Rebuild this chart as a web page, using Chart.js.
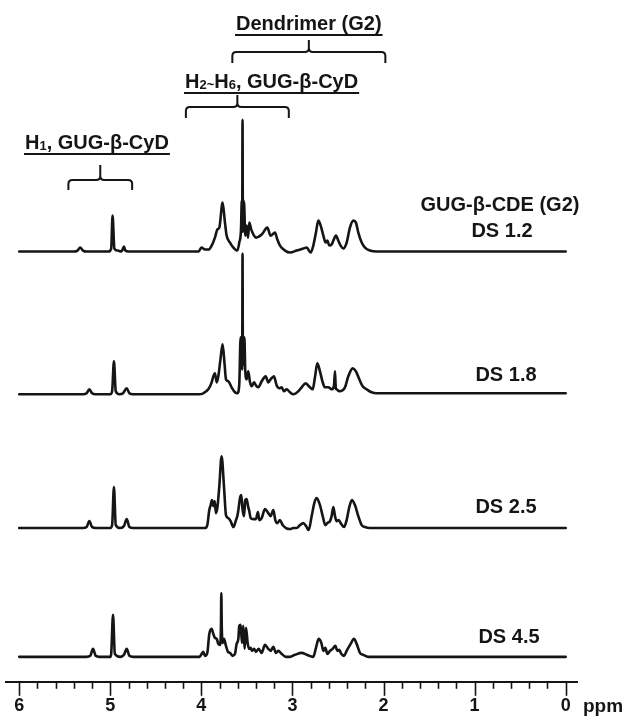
<!DOCTYPE html>
<html>
<head>
<meta charset="utf-8">
<script src="https://cdn.jsdelivr.net/npm/chart.js@4.4.1/dist/chart.umd.min.js"></script>
<style>
  html, body { margin: 0; padding: 0; background: #fff; }
  #wrap { width: 628px; height: 720px; position: relative; }
</style>
</head>
<body>
<div id="wrap"><canvas id="nmr"></canvas></div>
<script>
// [ppm, intensity above the trace baseline]
const specDS12 = [
  [6.0,0],[5.40,0],[5.36,1],[5.33,4],[5.30,1],[5.26,0],[5.02,0],[4.99,3],[4.975,36],[4.955,3],
  [4.92,1],[4.88,0],[4.865,2],[4.85,5],[4.835,1],[4.80,0],[4.03,0],[4.00,4],[3.96,2],[3.92,2],
  [3.887,6],[3.851,14],[3.825,22],[3.803,24],[3.767,49],[3.741,29],[3.723,16],[3.686,9],[3.649,4],
  [3.605,1],[3.584,9],[3.565,22],[3.556,51],[3.552,20],[3.548,132],[3.544,20],[3.540,52],[3.536,24],
  [3.532,50],[3.518,16],[3.503,26],[3.488,14],[3.474,29],[3.452,22],[3.422,16],[3.401,14],[3.338,17],
  [3.276,24],[3.240,16],[3.192,19],[3.166,12],[3.137,6],[3.082,1],[3.027,-1],[2.954,1],[2.881,3],
  [2.844,4],[2.800,-1],[2.771,6],[2.742,19],[2.716,31],[2.690,26],[2.661,16],[2.636,9],[2.617,11],
  [2.595,6],[2.570,7],[2.551,11],[2.522,16],[2.497,11],[2.471,6],[2.442,3],[2.405,9],[2.369,24],
  [2.332,31],[2.303,29],[2.277,19],[2.240,9],[2.204,4],[2.149,1],[2.076,0],[0,0]
];
const specDS18 = [
  [6.0,0],[5.30,0],[5.26,1],[5.23,5],[5.20,1],[5.16,0],[5.00,0],[4.98,3],[4.96,33],[4.94,3],
  [4.90,0],[4.86,1],[4.82,6],[4.79,1],[4.75,0],[4.03,0],[3.979,1],[3.924,5],[3.887,12],[3.869,18],
  [3.851,21],[3.832,12],[3.814,18],[3.788,37],[3.767,50],[3.745,30],[3.730,15],[3.704,13],[3.668,7],
  [3.631,2],[3.605,1],[3.584,10],[3.569,57],[3.562,30],[3.557,57],[3.552,25],[3.548,141],[3.544,30],
  [3.540,57],[3.535,30],[3.528,57],[3.518,23],[3.503,15],[3.485,23],[3.466,12],[3.448,8],[3.422,12],
  [3.401,9],[3.375,7],[3.338,13],[3.294,18],[3.265,12],[3.240,15],[3.203,18],[3.174,9],[3.144,6],
  [3.119,7],[3.093,3],[3.064,5],[3.027,2],[2.991,0],[2.936,3],[2.899,7],[2.855,11],[2.808,7],
  [2.778,5],[2.753,17],[2.727,31],[2.698,23],[2.668,12],[2.643,7],[2.606,7],[2.570,5],[2.545,8],
  [2.533,23],[2.524,6],[2.515,5],[2.486,3],[2.449,4],[2.423,7],[2.387,18],[2.339,26],[2.303,23],
  [2.266,15],[2.229,8],[2.185,5],[2.131,2],[2.076,1],[0,1]
];
const specDS25 = [
  [6.0,0],[5.30,0],[5.26,1],[5.23,7],[5.20,1],[5.16,0],[5.00,0],[4.98,3],[4.96,41],[4.94,3],
  [4.89,0],[4.85,2],[4.82,9],[4.79,1],[4.75,0],[3.961,0],[3.935,3],[3.913,18],[3.898,23],[3.884,28],
  [3.869,22],[3.854,27],[3.840,15],[3.825,20],[3.803,42],[3.778,72],[3.752,42],[3.730,13],[3.704,10],
  [3.679,7],[3.649,1],[3.620,8],[3.605,12],[3.591,20],[3.576,30],[3.562,33],[3.547,18],[3.532,12],
  [3.518,28],[3.503,29],[3.488,22],[3.474,17],[3.459,10],[3.430,9],[3.401,9],[3.379,16],[3.364,8],
  [3.338,10],[3.302,19],[3.265,15],[3.240,12],[3.210,18],[3.188,8],[3.166,5],[3.137,8],[3.108,3],
  [3.071,0],[3.027,-1],[2.991,0],[2.954,0],[2.917,3],[2.881,5],[2.851,2],[2.822,-2],[2.789,12],
  [2.760,25],[2.735,30],[2.698,23],[2.668,12],[2.639,3],[2.617,5],[2.588,7],[2.570,12],[2.551,21],
  [2.533,12],[2.515,7],[2.493,8],[2.464,4],[2.434,1],[2.405,8],[2.376,21],[2.347,28],[2.314,23],
  [2.277,12],[2.240,3],[2.204,1],[2.149,0],[0,0]
];
const specDS45 = [
  [6.0,0],[5.26,0],[5.22,1],[5.19,8],[5.16,1],[5.12,0],[5.00,0],[4.99,3],[4.97,42],[4.95,3],
  [4.89,0],[4.85,2],[4.82,8],[4.79,1],[4.75,0],[4.02,0],[3.997,3],[3.979,5],[3.961,1],[3.935,4],
  [3.913,23],[3.887,28],[3.869,23],[3.851,19],[3.832,18],[3.814,13],[3.796,12],[3.785,30],[3.781,64],
  [3.776,30],[3.767,14],[3.752,18],[3.730,11],[3.708,5],[3.686,4],[3.657,1],[3.631,3],[3.613,13],
  [3.594,18],[3.584,31],[3.569,32],[3.554,14],[3.540,31],[3.525,8],[3.510,29],[3.492,14],[3.477,8],
  [3.459,9],[3.444,6],[3.422,8],[3.401,5],[3.371,8],[3.338,4],[3.302,12],[3.265,8],[3.240,6],
  [3.210,10],[3.181,4],[3.155,6],[3.119,3],[3.071,0],[3.027,0],[2.972,2],[2.899,4],[2.844,2],
  [2.771,0],[2.742,9],[2.712,18],[2.683,14],[2.661,6],[2.639,9],[2.617,3],[2.588,6],[2.559,8],
  [2.529,11],[2.507,6],[2.486,7],[2.464,3],[2.434,1],[2.405,6],[2.361,13],[2.325,18],[2.295,13],
  [2.259,4],[2.222,2],[2.167,0],[0,0]
];

const sampleLabels = ['DS 1.2', 'DS 1.8', 'DS 2.5', 'DS 4.5'];
const majorTicks = [6, 5, 4, 3, 2, 1, 0];
const tickLabels = ['6', '5', '4', '3', '2', '1', '0'];
const minorTicks = [5.8, 5.6, 5.4, 5.2, 4.8, 4.6, 4.4, 4.2, 3.8, 3.6, 3.4, 3.2,
  2.8, 2.6, 2.4, 2.2, 1.8, 1.6, 1.4, 1.2, 0.8, 0.6, 0.4, 0.2];
// assignment brackets, ppm from -> to
const bracketRanges = [[3.66, 1.98], [4.17, 3.04], [5.46, 4.76]];

// layout (not data)
const traceOffsets = [431, 288, 154, 25];
const FONT = '"Liberation Sans", Arial, Helvetica, sans-serif';
const INK = '#151515';

const spectra = [specDS12, specDS18, specDS25, specDS45];

function drawParts(ctx, parts, x, y) {
  let cx = x;
  parts.forEach(function (p) {
    const sub = p[1];
    ctx.font = sub ? 'bold 13px ' + FONT : 'bold 20px ' + FONT;
    ctx.fillText(p[0], cx, sub ? y + 1 : y);
    cx += ctx.measureText(p[0]).width;
  });
  return cx - x;
}

function bracket(ctx, x0, x1, top, yh, bot) {
  const xc = (x0 + x1) / 2, r = 4;
  ctx.beginPath();
  ctx.moveTo(x0, bot);
  ctx.lineTo(x0, yh + r);
  ctx.quadraticCurveTo(x0, yh, x0 + r, yh);
  ctx.lineTo(xc - r, yh);
  ctx.quadraticCurveTo(xc, yh, xc, yh - r);
  ctx.lineTo(xc, top);
  ctx.moveTo(xc, yh - r);
  ctx.quadraticCurveTo(xc, yh, xc + r, yh);
  ctx.lineTo(x1 - r, yh);
  ctx.quadraticCurveTo(x1, yh, x1, yh + r);
  ctx.lineTo(x1, bot);
  ctx.stroke();
}

const decor = {
  id: 'decor',
  afterDraw: function (chart) {
    const ctx = chart.ctx;
    const xs = chart.scales.x;
    const axisY = chart.chartArea.bottom;
    ctx.save();
    ctx.strokeStyle = INK;
    ctx.fillStyle = INK;

    // tick marks
    ctx.lineWidth = 1.6;
    xs.ticks.forEach(function (t) {
      const px = Math.round(xs.getPixelForValue(t.value)) + 0.5;
      const len = Number.isInteger(t.value) ? 14 : 7;
      ctx.beginPath();
      ctx.moveTo(px, axisY);
      ctx.lineTo(px, axisY + len);
      ctx.stroke();
    });

    // unit
    ctx.textAlign = 'left';
    ctx.textBaseline = 'alphabetic';
    ctx.font = 'bold 19px ' + FONT;
    ctx.fillText('ppm', 583, 712);

    // brackets
    ctx.lineWidth = 2;
    const bRows = [[40, 52, 63], [95, 107, 118], [165, 180, 190]];
    bracketRanges.forEach(function (r, i) {
      bracket(ctx, xs.getPixelForValue(r[0]), xs.getPixelForValue(r[1]), bRows[i][0], bRows[i][1], bRows[i][2]);
    });

    // headings with underline
    const heads = [
      { parts: [['Dendrimer (G2)']], x: 236, y: 30, ul: 35 },
      { parts: [['H'], ['2', 1], ['~', 1], ['H'], ['6', 1], [', GUG-\u03b2-CyD']], x: 185, y: 88, ul: 93 },
      { parts: [['H'], ['1', 1], [', GUG-\u03b2-CyD']], x: 25, y: 149, ul: 154 }
    ];
    heads.forEach(function (h) {
      const w = drawParts(ctx, h.parts, h.x, h.y);
      ctx.beginPath();
      ctx.moveTo(h.x - 1, h.ul);
      ctx.lineTo(h.x + w + 1, h.ul);
      ctx.stroke();
    });

    // sample labels
    ctx.textAlign = 'center';
    ctx.font = 'bold 20px ' + FONT;
    ctx.fillText('GUG-\u03b2-CDE (G2)', 500, 211);
    const lblPos = [[502, 237], [506, 381], [506, 513], [509, 643]];
    sampleLabels.forEach(function (s, i) {
      ctx.fillText(s, lblPos[i][0], lblPos[i][1]);
    });
    ctx.restore();
  }
};

new Chart(document.getElementById('nmr'), {
  type: 'line',
  data: {
    datasets: spectra.map(function (sp, i) {
      return {
        label: sampleLabels[i],
        data: sp.map(function (p) { return { x: p[0], y: traceOffsets[i] + p[1] }; }),
        borderColor: INK,
        borderWidth: 2.6,
        borderJoinStyle: 'round',
        borderCapStyle: 'round',
        pointRadius: 0,
        fill: false,
        cubicInterpolationMode: 'monotone'
      };
    })
  },
  options: {
    responsive: true,
    maintainAspectRatio: false,
    animation: false,
    layout: { padding: { left: 6, right: 51, top: 0, bottom: 0.6 } },
    plugins: { legend: { display: false }, tooltip: { enabled: false } },
    scales: {
      x: {
        type: 'linear',
        reverse: true,
        min: -0.124,
        max: 6.145,
        afterBuildTicks: function (scale) {
          scale.ticks = majorTicks.concat(minorTicks).sort(function (a, b) { return b - a; })
            .map(function (v) { return { value: v }; });
        },
        border: { display: true, color: INK, width: 2 },
        grid: { display: true, drawOnChartArea: false, drawTicks: true, tickLength: 10, color: 'rgba(0,0,0,0)' },
        ticks: {
          autoSkip: false,
          maxRotation: 0,
          minRotation: 0,
          padding: 3,
          color: INK,
          font: { family: FONT, size: 18, weight: 'bold' },
          callback: function (v) {
            const k = majorTicks.indexOf(v);
            return k >= 0 ? tickLabels[k] : '';
          }
        }
      },
      y: { display: false, min: 0, max: 683 }
    }
  },
  plugins: [decor]
});
</script>
</body>
</html>
